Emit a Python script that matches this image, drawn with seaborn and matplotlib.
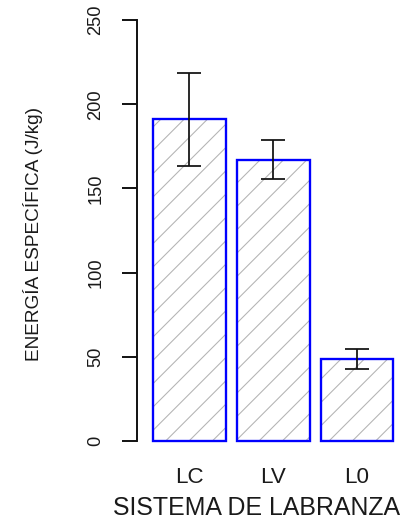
import matplotlib
matplotlib.use("Agg")
import matplotlib.pyplot as plt
import seaborn as sns
import pandas as pd

# ---- data ----
categories = ["LC", "LV", "L0"]
means = [191.0, 167.0, 48.5]
errors = [27.5, 11.5, 6.0]
y_ticks = [0, 50, 100, 150, 200, 250]
x_label = "SISTEMA DE LABRANZA"
y_label = "ENERGÍA ESPECÍFICA (J/kg)"

sns.set_theme(style="white")
plt.rcParams["font.family"] = ["Liberation Sans", "DejaVu Sans"]
plt.rcParams["hatch.linewidth"] = 0.55

df = pd.DataFrame({"sistema": categories, "energia": means})

DPI = 140
fig = plt.figure(figsize=(411 / DPI, 520 / DPI), dpi=DPI)
ax = fig.add_axes([0.3333, 0.1196, 0.6618, 0.8742])

bar_w = 0.87
# hatched fill
sns.barplot(data=df, x="sistema", y="energia", order=categories, color="white",
            saturation=1, edgecolor="#b4b4b4", linewidth=0, hatch="//",
            width=bar_w, errorbar=None, ax=ax, zorder=1)
# blue outline
sns.barplot(data=df, x="sistema", y="energia", order=categories, color="#0000ff",
            fill=False, linewidth=1.2, width=bar_w, errorbar=None, ax=ax, zorder=2)

ax.errorbar(categories, means, yerr=errors, fmt="none", ecolor="#111111",
            elinewidth=0.9, capsize=6.2, capthick=0.9, zorder=3)

ax.set_xlim(-0.625, 2.62)
ax.set_ylim(-10, 260)
ax.set_yticks(y_ticks)
ax.set_yticklabels([str(t) for t in y_ticks])

for s in ["top", "right", "bottom"]:
    ax.spines[s].set_visible(False)
ax.spines["left"].set_bounds(0, 250)
ax.spines["left"].set_color("#111111")
ax.spines["left"].set_linewidth(1.0)

ax.tick_params(axis="y", length=7.7, width=1.0, color="#111111", pad=9,
               labelsize=9.4, labelcolor="#1a1a1a", left=True)
ax.tick_params(axis="x", length=0, pad=4.5, labelsize=11.5, labelcolor="#1a1a1a")
plt.setp(ax.get_yticklabels(), rotation=90, va="center")

ax.set_xlabel(x_label, fontsize=12.8, color="#1a1a1a")
ax.set_ylabel(y_label, fontsize=9.8, color="#1a1a1a")
ax.xaxis.set_label_coords(0.441, -0.083)
ax.yaxis.set_label_coords(-0.345, 0.492)

ax.set_facecolor("white")
fig.patch.set_facecolor("white")
fig.savefig("out.png", dpi=DPI)
